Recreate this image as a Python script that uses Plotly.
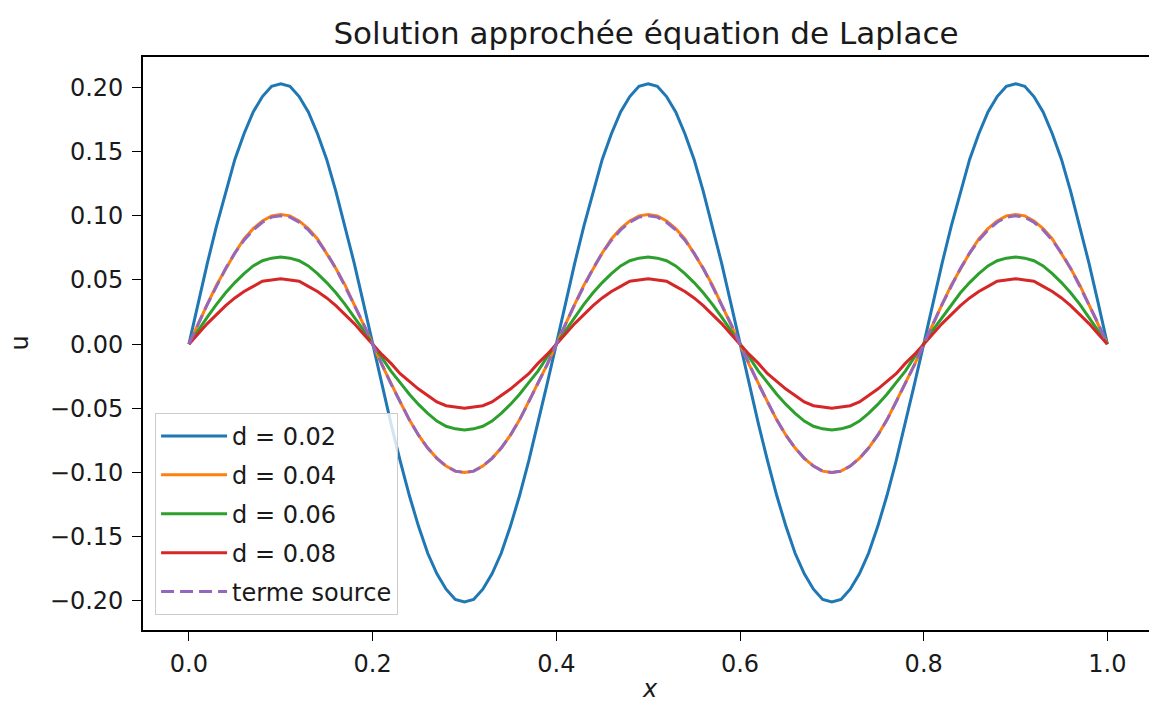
import plotly.graph_objects as go

x_vals = [0.00, 0.01, 0.02, 0.03, 0.04, 0.05, 0.06, 0.07, 0.08, 0.09,
          0.10, 0.11, 0.12, 0.13, 0.14, 0.15, 0.16, 0.17, 0.18, 0.19,
          0.20, 0.21, 0.22, 0.23, 0.24, 0.25, 0.26, 0.27, 0.28, 0.29,
          0.30, 0.31, 0.32, 0.33, 0.34, 0.35, 0.36, 0.37, 0.38, 0.39,
          0.40, 0.41, 0.42, 0.43, 0.44, 0.45, 0.46, 0.47, 0.48, 0.49,
          0.50, 0.51, 0.52, 0.53, 0.54, 0.55, 0.56, 0.57, 0.58, 0.59,
          0.60, 0.61, 0.62, 0.63, 0.64, 0.65, 0.66, 0.67, 0.68, 0.69,
          0.70, 0.71, 0.72, 0.73, 0.74, 0.75, 0.76, 0.77, 0.78, 0.79,
          0.80, 0.81, 0.82, 0.83, 0.84, 0.85, 0.86, 0.87, 0.88, 0.89,
          0.90, 0.91, 0.92, 0.93, 0.94, 0.95, 0.96, 0.97, 0.98, 0.99, 1.00]

u_d002 = [0.0,
          0.032, 0.063, 0.092, 0.119, 0.144, 0.164, 0.181, 0.193, 0.201, 0.203,
          0.201, 0.193, 0.181, 0.164, 0.144, 0.119, 0.092, 0.063, 0.032, 0.0,
          -0.031, -0.062, -0.091, -0.118, -0.142, -0.163, -0.179, -0.191, -0.199, -0.201,
          -0.199, -0.191, -0.179, -0.163, -0.142, -0.118, -0.091, -0.062, -0.031, 0.0,
          0.032, 0.063, 0.092, 0.119, 0.144, 0.164, 0.181, 0.193, 0.201, 0.203,
          0.201, 0.193, 0.181, 0.164, 0.144, 0.119, 0.092, 0.063, 0.032, 0.0,
          -0.031, -0.062, -0.091, -0.118, -0.142, -0.163, -0.179, -0.191, -0.199, -0.201,
          -0.199, -0.191, -0.179, -0.163, -0.142, -0.118, -0.091, -0.062, -0.031, 0.0,
          0.032, 0.063, 0.092, 0.119, 0.144, 0.164, 0.181, 0.193, 0.201, 0.203,
          0.201, 0.193, 0.181, 0.164, 0.144, 0.119, 0.092, 0.063, 0.032, 0.0]

u_d004 = [0.0,
          0.016, 0.031, 0.046, 0.059, 0.071, 0.082, 0.090, 0.096, 0.100, 0.101,
          0.100, 0.096, 0.090, 0.082, 0.071, 0.059, 0.046, 0.031, 0.016, 0.0,
          -0.016, -0.031, -0.045, -0.059, -0.071, -0.081, -0.089, -0.095, -0.099, -0.100,
          -0.099, -0.095, -0.089, -0.081, -0.071, -0.059, -0.045, -0.031, -0.016, 0.0,
          0.016, 0.031, 0.046, 0.059, 0.071, 0.082, 0.090, 0.096, 0.100, 0.101,
          0.100, 0.096, 0.090, 0.082, 0.071, 0.059, 0.046, 0.031, 0.016, 0.0,
          -0.016, -0.031, -0.045, -0.059, -0.071, -0.081, -0.089, -0.095, -0.099, -0.100,
          -0.099, -0.095, -0.089, -0.081, -0.071, -0.059, -0.045, -0.031, -0.016, 0.0,
          0.016, 0.031, 0.046, 0.059, 0.071, 0.082, 0.090, 0.096, 0.100, 0.101,
          0.100, 0.096, 0.090, 0.082, 0.071, 0.059, 0.046, 0.031, 0.016, 0.0]

u_d006 = [0.0,
          0.011, 0.021, 0.031, 0.040, 0.048, 0.055, 0.061, 0.065, 0.067, 0.068,
          0.067, 0.065, 0.061, 0.055, 0.048, 0.040, 0.031, 0.021, 0.011, 0.0,
          -0.010, -0.021, -0.030, -0.039, -0.047, -0.054, -0.060, -0.064, -0.066, -0.067,
          -0.066, -0.064, -0.060, -0.054, -0.047, -0.039, -0.030, -0.021, -0.010, 0.0,
          0.011, 0.021, 0.031, 0.040, 0.048, 0.055, 0.061, 0.065, 0.067, 0.068,
          0.067, 0.065, 0.061, 0.055, 0.048, 0.040, 0.031, 0.021, 0.011, 0.0,
          -0.010, -0.021, -0.030, -0.039, -0.047, -0.054, -0.060, -0.064, -0.066, -0.067,
          -0.066, -0.064, -0.060, -0.054, -0.047, -0.039, -0.030, -0.021, -0.010, 0.0,
          0.011, 0.021, 0.031, 0.040, 0.048, 0.055, 0.061, 0.065, 0.067, 0.068,
          0.067, 0.065, 0.061, 0.055, 0.048, 0.040, 0.031, 0.021, 0.011, 0.0]

u_d008 = [0.0,
          0.008, 0.016, 0.023, 0.030, 0.036, 0.041, 0.045, 0.049, 0.050, 0.051,
          0.050, 0.049, 0.045, 0.041, 0.036, 0.030, 0.023, 0.016, 0.008, 0.0,
          -0.008, -0.015, -0.023, -0.029, -0.035, -0.040, -0.045, -0.048, -0.049, -0.050,
          -0.049, -0.048, -0.045, -0.040, -0.035, -0.029, -0.023, -0.015, -0.008, 0.0,
          0.008, 0.016, 0.023, 0.030, 0.036, 0.041, 0.045, 0.049, 0.050, 0.051,
          0.050, 0.049, 0.045, 0.041, 0.036, 0.030, 0.023, 0.016, 0.008, 0.0,
          -0.008, -0.015, -0.023, -0.029, -0.035, -0.040, -0.045, -0.048, -0.049, -0.050,
          -0.049, -0.048, -0.045, -0.040, -0.035, -0.029, -0.023, -0.015, -0.008, 0.0,
          0.008, 0.016, 0.023, 0.030, 0.036, 0.041, 0.045, 0.049, 0.050, 0.051,
          0.050, 0.049, 0.045, 0.041, 0.036, 0.030, 0.023, 0.016, 0.008, 0.0]

source = [0.0,
          0.016, 0.031, 0.045, 0.059, 0.071, 0.081, 0.089, 0.095, 0.099, 0.100,
          0.099, 0.095, 0.089, 0.081, 0.071, 0.059, 0.045, 0.031, 0.016, 0.0,
          -0.016, -0.031, -0.045, -0.059, -0.071, -0.081, -0.089, -0.095, -0.099, -0.100,
          -0.099, -0.095, -0.089, -0.081, -0.071, -0.059, -0.045, -0.031, -0.016, 0.0,
          0.016, 0.031, 0.045, 0.059, 0.071, 0.081, 0.089, 0.095, 0.099, 0.100,
          0.099, 0.095, 0.089, 0.081, 0.071, 0.059, 0.045, 0.031, 0.016, 0.0,
          -0.016, -0.031, -0.045, -0.059, -0.071, -0.081, -0.089, -0.095, -0.099, -0.100,
          -0.099, -0.095, -0.089, -0.081, -0.071, -0.059, -0.045, -0.031, -0.016, 0.0,
          0.016, 0.031, 0.045, 0.059, 0.071, 0.081, 0.089, 0.095, 0.099, 0.100,
          0.099, 0.095, 0.089, 0.081, 0.071, 0.059, 0.045, 0.031, 0.016, 0.0]

series_names = ["d = 0.02", "d = 0.04", "d = 0.06", "d = 0.08", "terme source"]
series_values = [u_d002, u_d004, u_d006, u_d008, source]
colors = ["#1f77b4", "#ff7f0e", "#2ca02c", "#d62728", "#9467bd"]
dashes = ["solid", "solid", "solid", "solid", "13px,6px"]

x_ticks = [0.0, 0.2, 0.4, 0.6, 0.8, 1.0]
y_ticks = [-0.20, -0.15, -0.10, -0.05, 0.00, 0.05, 0.10, 0.15, 0.20]

FONT = "DejaVu Sans"
TXT = "#1a1a1a"

fig = go.Figure()
for i, (name, vals, col, dash) in enumerate(zip(series_names, series_values, colors, dashes)):
    fig.add_trace(go.Scatter(
        x=x_vals, y=vals, mode="lines", name=name,
        legendgroup=f"g{i}",
        line=dict(color=col, width=3, dash=dash),
    ))

fig.update_layout(
    width=1149, height=707,
    margin=dict(l=143, r=0, t=57, b=77),
    paper_bgcolor="white", plot_bgcolor="white",
    font=dict(family=FONT, size=24, color=TXT),
    title=dict(text="Solution approchée équation de Laplace",
               x=0.5, xref="paper", xanchor="center",
               y=1 - 33 / 707, yref="container", yanchor="middle",
               font=dict(family=FONT, size=31, color=TXT)),
    showlegend=True,
    legend=dict(
        x=0.012, y=0.379, xanchor="left", yanchor="top",
        bgcolor="rgba(255,255,255,0.8)", bordercolor="#cccccc", borderwidth=1,
        font=dict(family=FONT, size=24, color=TXT),
        traceorder="grouped", tracegroupgap=4.7,
        itemwidth=66,
    ),
    xaxis=dict(
        range=[-0.05, 1.0453], tickvals=x_ticks, tickformat=".1f",
        showline=True, linecolor="black", linewidth=1.6, mirror=True,
        ticks="outside", ticklen=9, tickwidth=1.4, tickcolor="black",
        showgrid=False, zeroline=False, ticklabelstandoff=2,
    ),
    yaxis=dict(
        range=[-0.2228, 0.2238], tickvals=y_ticks, tickformat=".2f",
        showline=True, linecolor="black", linewidth=1.6, mirror=False,
        ticks="outside", ticklen=9, tickwidth=1.4, tickcolor="black",
        showgrid=False, zeroline=False, ticklabelstandoff=4,
    ),
    annotations=[
        dict(text="<i>x</i>", xref="paper", yref="paper", x=0.5035, y=-(690 - 630.5) / 573.5,
             xanchor="center", yanchor="middle", showarrow=False,
             font=dict(family=FONT, size=24, color=TXT)),
        dict(text="u", xref="paper", yref="paper", x=-(143 - 19) / 1006, y=0.5,
             xanchor="center", yanchor="middle", showarrow=False, textangle=-90,
             font=dict(family=FONT, size=24, color=TXT)),
    ],
)

fig.write_html("out.html")
